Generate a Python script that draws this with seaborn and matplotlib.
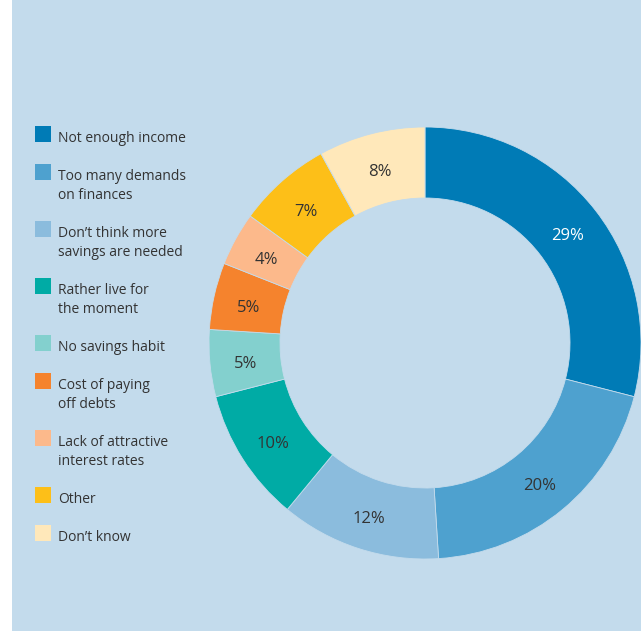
import matplotlib
matplotlib.use("Agg")
import matplotlib.pyplot as plt
from matplotlib.patches import Rectangle
import seaborn as sns

# Reasons for not saving more (share of respondents, %)
reasons = [
    "Not enough income",
    "Too many demands\non finances",
    "Don’t think more\nsavings are needed",
    "Rather live for\nthe moment",
    "No savings habit",
    "Cost of paying\noff debts",
    "Lack of attractive\ninterest rates",
    "Other",
    "Don’t know",
]
shares = [29, 20, 12, 10, 5, 5, 4, 7, 8]
slice_colors = ["#007bb6", "#4ea1cf", "#8bbcdd", "#00aba5", "#83d0ce",
                "#f5832d", "#fcb98b", "#fdbf18", "#ffe8ba"]

BG = "#c3dbec"
TEXT = "#333333"

sns.set_style("white")
plt.rcParams["font.family"] = ["Open Sans", "DejaVu Sans"]
palette = sns.color_palette(slice_colors)

W, H = 641, 631
fig = plt.figure(figsize=(W / 100, H / 100), dpi=100)
fig.patch.set_facecolor("white")
fig.add_artist(Rectangle((12 / W, 0), 1, 1, transform=fig.transFigure,
                         facecolor=BG, edgecolor="none", zorder=0))

ax = fig.add_axes([0, 0, 1, 1])
ax.set_facecolor("none")

# Donut
cx, cy = 425, H - 343
r_out, r_in = 216, 145
wedges, texts, autotexts = ax.pie(
    shares, colors=palette, startangle=90, counterclock=False,
    radius=r_out, center=(cx, cy),
    wedgeprops=dict(width=r_out - r_in, edgecolor=BG, linewidth=0.6),
    autopct=lambda p: f"{p:.0f}%",
    pctdistance=(r_out + r_in) / 2 / r_out,
    textprops=dict(fontsize=12, color=TEXT),
)
autotexts[0].set_color("white")
for t in autotexts:
    x, y = t.get_position()
    t.set_position((x, y - 4))

ax.set_xlim(0, W)
ax.set_ylim(0, H)
ax.set_aspect("equal")
ax.axis("off")

# Legend
line_h = 19
top = 126
for label, col in zip(reasons, palette):
    lines = label.split("\n")
    ax.add_patch(Rectangle((35, H - top - 16), 16, 16, facecolor=col,
                           edgecolor="none"))
    for i, ln in enumerate(lines):
        ax.text(58, H - (top + 16) - i * line_h, ln, fontsize=10,
                color=TEXT, va="baseline", ha="left")
    top += line_h * (len(lines) + 1)

fig.savefig("out.png", dpi=100, facecolor=fig.get_facecolor())
